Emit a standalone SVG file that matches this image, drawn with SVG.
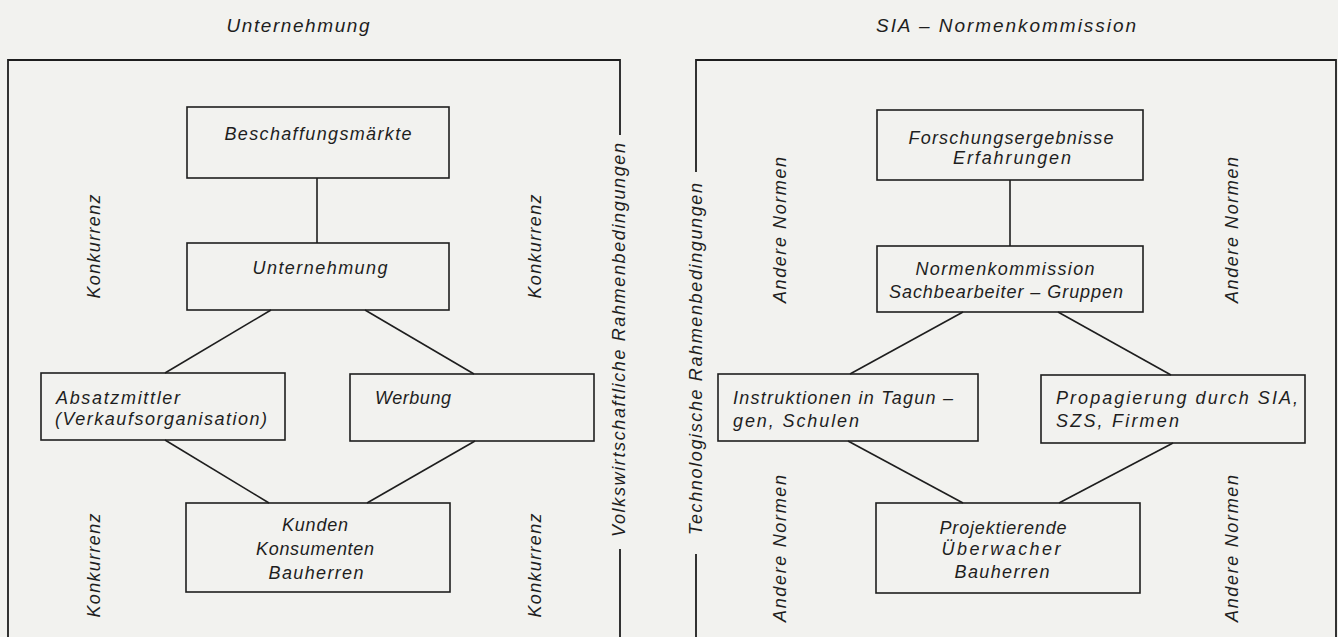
<svg xmlns="http://www.w3.org/2000/svg" width="1338" height="637" viewBox="0 0 1338 637">
<style>
.bg{fill:#f2f2ef}
.frame{fill:none;stroke:#1e1e1e;stroke-width:1.8}
.box{fill:none;stroke:#1e1e1e;stroke-width:1.6}
.con{fill:none;stroke:#1e1e1e;stroke-width:1.6}
text{font-family:"Liberation Sans","DejaVu Sans",sans-serif;font-style:italic;font-size:18px;fill:#1e1e1e}
.c{text-anchor:middle}
.t{font-size:19px}
</style>
<rect class="bg" x="0" y="0" width="1338" height="637"/>

<g id="frames">
<path class="frame" d="M8,637 V60 H620 V135 M620,549 V637"/>
<path class="frame" d="M696,172 V60 H1336 V637 M696,554 V637"/>
</g>

<g id="titles">
<text class="c t" x="298" y="32" textLength="143" lengthAdjust="spacing">Unternehmung</text>
<text class="c t" x="1006" y="32" textLength="260" lengthAdjust="spacing">SIA – Normenkommission</text>
</g>

<g id="side-labels">
<text class="c" transform="translate(100,246.5) rotate(-90)" textLength="104" lengthAdjust="spacing">Konkurrenz</text>
<text class="c" transform="translate(100,565.5) rotate(-90)" textLength="104" lengthAdjust="spacing">Konkurrenz</text>
<text class="c" transform="translate(541,246.5) rotate(-90)" textLength="104" lengthAdjust="spacing">Konkurrenz</text>
<text class="c" transform="translate(541,565.5) rotate(-90)" textLength="104" lengthAdjust="spacing">Konkurrenz</text>
<text class="c" transform="translate(625,340) rotate(-90)" textLength="394" lengthAdjust="spacing">Volkswirtschaftliche  Rahmenbedingungen</text>
<text class="c" transform="translate(702,359) rotate(-90)" textLength="352" lengthAdjust="spacing">Technologische  Rahmenbedingungen</text>
<text class="c" transform="translate(786,230) rotate(-90)" textLength="146" lengthAdjust="spacing">Andere  Normen</text>
<text class="c" transform="translate(786,548.5) rotate(-90)" textLength="147" lengthAdjust="spacing">Andere  Normen</text>
<text class="c" transform="translate(1238,230) rotate(-90)" textLength="146" lengthAdjust="spacing">Andere  Normen</text>
<text class="c" transform="translate(1238,548.5) rotate(-90)" textLength="147" lengthAdjust="spacing">Andere  Normen</text>
</g>

<g id="connectors">
<line class="con" x1="317" y1="178" x2="317" y2="243"/>
<line class="con" x1="271" y1="310" x2="165" y2="373"/>
<line class="con" x1="365" y1="310" x2="474" y2="374"/>
<line class="con" x1="165" y1="440" x2="269" y2="503"/>
<line class="con" x1="475" y1="441" x2="367" y2="503"/>
<line class="con" x1="1010" y1="180" x2="1010" y2="246"/>
<line class="con" x1="963" y1="312" x2="850" y2="374"/>
<line class="con" x1="1058" y1="312" x2="1171" y2="375"/>
<line class="con" x1="848" y1="441" x2="963" y2="503"/>
<line class="con" x1="1173" y1="443" x2="1059" y2="503"/>
</g>

<g id="n-beschaffung">
<rect class="box" x="187" y="107" width="262" height="71"/>
<text class="c" x="318" y="140" textLength="187" lengthAdjust="spacing">Beschaffungsmärkte</text>
</g>
<g id="n-unternehmung">
<rect class="box" x="187" y="243" width="262" height="67"/>
<text class="c" x="320" y="274" textLength="135" lengthAdjust="spacing">Unternehmung</text>
</g>
<g id="n-absatzmittler">
<rect class="box" x="41" y="373" width="244" height="67"/>
<text x="56" y="404" textLength="124" lengthAdjust="spacing">Absatzmittler</text>
<text x="55" y="425" textLength="212" lengthAdjust="spacing">(Verkaufsorganisation)</text>
</g>
<g id="n-werbung">
<rect class="box" x="350" y="374" width="244" height="67"/>
<text x="375" y="404" textLength="76" lengthAdjust="spacing">Werbung</text>
</g>
<g id="n-kunden">
<rect class="box" x="186" y="503" width="264" height="89"/>
<text class="c" x="315" y="531" textLength="66" lengthAdjust="spacing">Kunden</text>
<text class="c" x="315" y="555" textLength="118" lengthAdjust="spacing">Konsumenten</text>
<text class="c" x="316" y="579" textLength="95" lengthAdjust="spacing">Bauherren</text>
</g>

<g id="n-forschung">
<rect class="box" x="877" y="110" width="266" height="70"/>
<text class="c" x="1011" y="144" textLength="205" lengthAdjust="spacing">Forschungsergebnisse</text>
<text class="c" x="1012" y="164" textLength="118" lengthAdjust="spacing">Erfahrungen</text>
</g>
<g id="n-normenkommission">
<rect class="box" x="877" y="246" width="266" height="66"/>
<text class="c" x="1005" y="275" textLength="179" lengthAdjust="spacing">Normenkommission</text>
<text class="c" x="1006" y="298" textLength="234" lengthAdjust="spacing">Sachbearbeiter – Gruppen</text>
</g>
<g id="n-instruktionen">
<rect class="box" x="718" y="374" width="260" height="67"/>
<text x="733" y="404" textLength="220" lengthAdjust="spacing">Instruktionen in Tagun –</text>
<text x="733" y="427" textLength="126" lengthAdjust="spacing">gen,  Schulen</text>
</g>
<g id="n-propagierung">
<rect class="box" x="1041" y="375" width="264" height="68"/>
<text x="1056" y="404" textLength="242" lengthAdjust="spacing">Propagierung durch SIA,</text>
<text x="1056" y="427" textLength="123" lengthAdjust="spacing">SZS, Firmen</text>
</g>
<g id="n-projektierende">
<rect class="box" x="876" y="503" width="264" height="90"/>
<text class="c" x="1003" y="534" textLength="127" lengthAdjust="spacing">Projektierende</text>
<text class="c" x="1001" y="555" textLength="119" lengthAdjust="spacing">Überwacher</text>
<text class="c" x="1002" y="578" textLength="95" lengthAdjust="spacing">Bauherren</text>
</g>
</svg>
